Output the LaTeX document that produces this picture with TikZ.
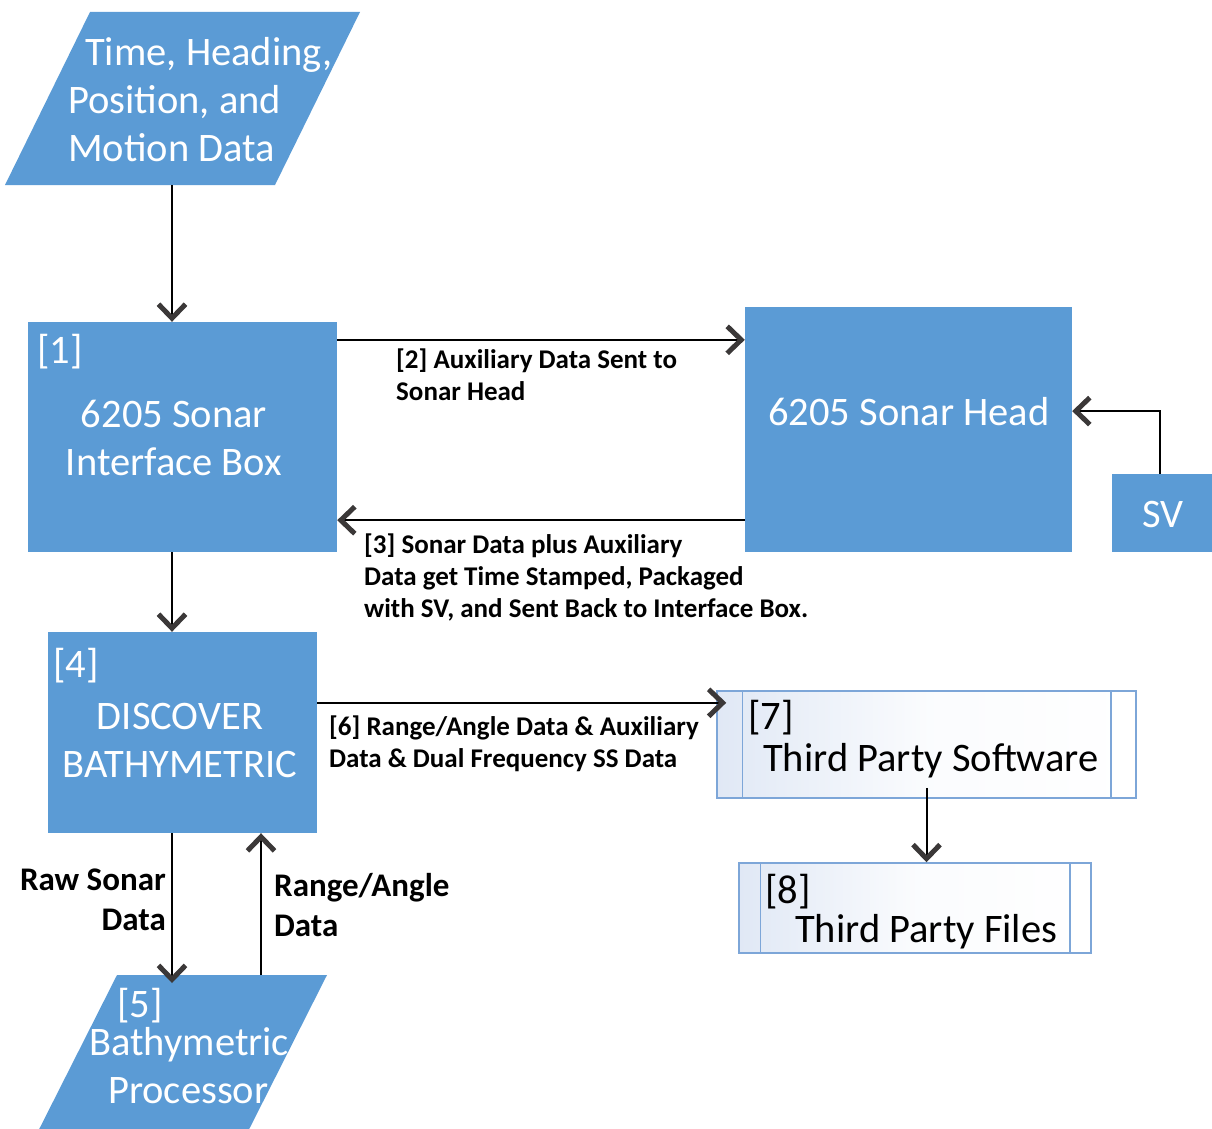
\documentclass[tikz,border=0pt]{standalone}
\usepackage{fontspec}
\setmainfont{Carlito}
\usetikzlibrary{arrows.meta}
\definecolor{sonarblue}{RGB}{91,155,213}
\definecolor{arrowgray}{RGB}{59,56,56}
\definecolor{thirdline}{RGB}{125,166,216}
\definecolor{thirdshade}{RGB}{224,232,245}
\tikzset{
  box/.style={fill=sonarblue,inner sep=0pt},
  thirdbox/.style={draw=thirdline,line width=1.5pt,left color=thirdshade,right color=white,
    middle color=white!85!thirdshade,inner sep=0pt},
  thirdedge/.style={draw=thirdline,line width=1.5pt},
  bigtxt/.style={font=\fontsize{40.5}{48}\selectfont,inner sep=0pt},
  whitetxt/.style={bigtxt,text=white},
  note/.style={font=\bfseries\fontsize{27}{32}\selectfont,align=left,inner sep=0pt,anchor=north west},
  flow/.style={line width=2pt,-{Straight Barb[length=14pt,width=27pt,line width=5pt,color=arrowgray]}}
}
\begin{document}
\begin{tikzpicture}[x=1pt,y=-1pt]
\useasboundingbox (0,0) rectangle (1212,1129);
\coordinate (spine) at (172,0);
\coordinate (back) at (261,0);
% Draw input and processor
\fill[sonarblue] (90,12) -- (360,12) -- (275,185) -- (5,185) coordinate (motion) -- cycle;
\fill[sonarblue] (117,975) coordinate (proc) -- (327,975) -- (226,1175) -- (16,1175) -- cycle;
% Draw blue boxes
\node[box,minimum width=309pt,minimum height=230pt] (iface) at (182.5,437) {};
\node[box,minimum width=327pt,minimum height=245pt] (head) at (908.5,429.5) {};
\node[box,minimum width=104pt,minimum height=78pt] (sv) at (1164,513) {};
\node[box,minimum width=269pt,minimum height=201pt] (disc) at (182.5,732.5) {};
% Draw third party boxes
\node[thirdbox,minimum width=419pt,minimum height=107pt] (sw) at (926.5,744.5) {};
\node[thirdbox,minimum width=352pt,minimum height=90pt] (files) at (915,908) {};
\foreach \n/\d in {sw/26pt,files/22pt} {
  \draw[thirdedge] ([xshift=\d]\n.north west) -- ([xshift=\d]\n.south west);
  \draw[thirdedge] ([xshift=-\d]\n.north east) -- ([xshift=-\d]\n.south east);
}
% Box texts
\node[whitetxt,align=left,anchor=north west] (motiontxt) at (68,37)
  {\hspace*{17pt}Time, Heading,\\Position, and\\Motion Data};
\foreach \t/\x/\y in {1/37/363,4/53/677,5/117/1017}
  \node[whitetxt,anchor=base west] (tag\t) at (\x,\y) {[\t]};
\node[whitetxt,align=center,anchor=north] (ifacetxt) at (174,400) {6205 Sonar\\Interface Box};
\node[whitetxt,anchor=base] (headtxt) at (909,425) {6205 Sonar Head};
\node[whitetxt,anchor=base] (svtxt) at (1163,527) {SV};
\node[whitetxt,align=center,anchor=north] (disctxt) at (180,703) {DISCOVER\\BATHYMETRIC};
\node[whitetxt,align=left,anchor=north west] (proctxt) at (89,1027)
  {Bathymetric\\\hspace*{19pt}Processor};
\node[bigtxt,anchor=base west] (tag7) at (748,729) {[7]};
\node[bigtxt,anchor=base west] (swtxt) at (763,771) {Third Party Software};
\node[bigtxt,anchor=base west] (tag8) at (765,903) {[8]};
\node[bigtxt,anchor=base west] (filestxt) at (795,942) {Third Party Files};
% Arrow labels
\node[note] (note2) at (396,349) {[2] Auxiliary Data Sent to\\Sonar Head};
\node[note] (note3) at (364,534)
  {[3] Sonar Data plus Auxiliary\\Data get Time Stamped, Packaged\\with SV, and Sent Back to Interface Box.};
\node[note] (note6) at (329,716) {[6] Range/Angle Data \& Auxiliary\\Data \& Dual Frequency SS Data};
\node[note,font=\bfseries\fontsize{33}{40}\selectfont,align=right,anchor=north east] (rawtxt) at (166,869)
  {Raw Sonar\\Data};
\node[note,font=\bfseries\fontsize{33}{40}\selectfont] (rangetxt) at (274,873) {Range/Angle\\Data};
% Draw arrows
\draw[flow] (motion -| spine) -- (iface.north -| spine);
\draw[flow] ([yshift=-18pt]iface.north east) coordinate (a2) -- (a2 -| head.west);
\draw[flow] ([yshift=32pt]head.south west) coordinate (a3) -- (a3 -| iface.east);
\draw[flow] ([xshift=-4pt]sv.north) |- (head.east |- headtxt.center);
\draw[flow] (iface.south -| spine) -- (disc.north -| spine);
\draw[flow] ([yshift=-71pt]disc.north east) coordinate (a6) -- ([xshift=10pt]a6 -| sw.west);
\draw[flow] (disc.south -| spine) -- ([yshift=-8pt]proc -| spine);
\draw[flow] (proc -| back) -- (disc.south -| back);
\draw[flow] ([yshift=11pt]sw.south) -- (sw.south |- files.north);
\end{tikzpicture}
\end{document}
